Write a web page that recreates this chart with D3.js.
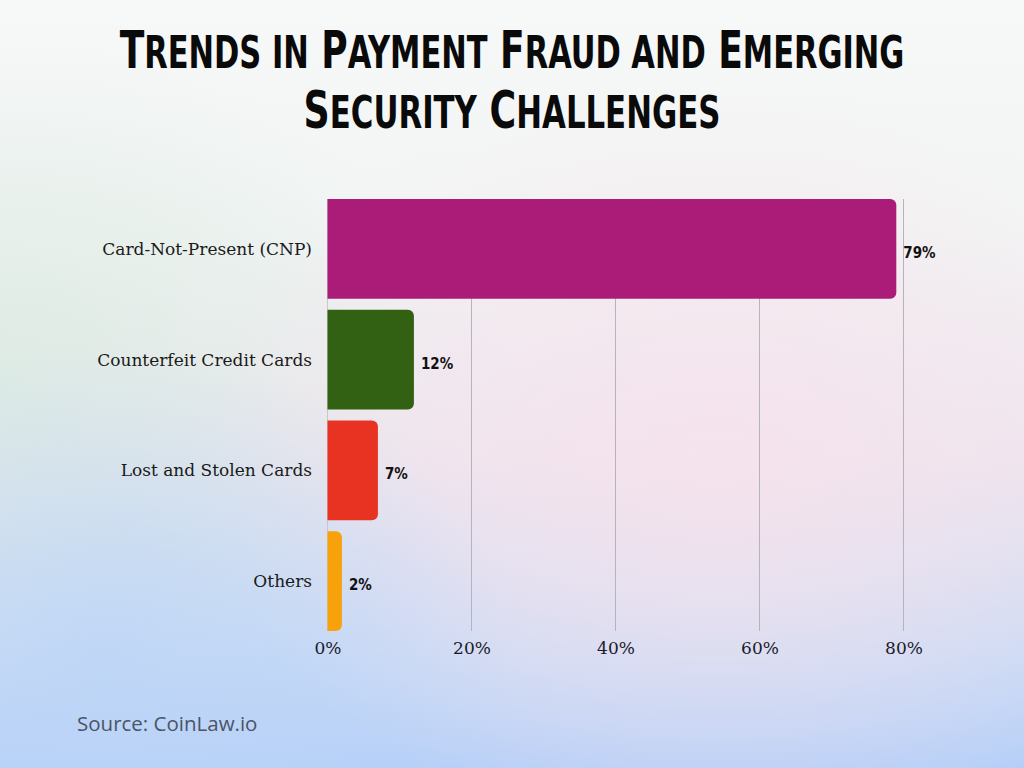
<!DOCTYPE html>
<html><head><meta charset="utf-8">
<script src="https://cdn.jsdelivr.net/npm/d3@7"></script>
<style>html,body{margin:0;padding:0;overflow:hidden}svg{display:block}</style>
</head><body>
<svg id="c" width="1024" height="768"></svg>
<script>
const categories = ["Card-Not-Present (CNP)", "Counterfeit Credit Cards", "Lost and Stolen Cards", "Others"];
const values = [79, 12, 7, 2];
const colors = ["#ab1c78", "#336114", "#e83222", "#f7a20b"];
const ticks = [0, 20, 40, 60, 80];
const titleLines = ["Trends in Payment Fraud and Emerging", "Security Challenges"];
const source = "Source: CoinLaw.io";

const svg = d3.select("#c");
const defs = svg.append("defs");
const lg = defs.append("linearGradient").attr("id","bg").attr("x1",0).attr("y1",0).attr("x2",0).attr("y2",1);
[[0,"#f7f8f8"],[0.3,"#f2f5f4"],[0.6,"#ece6ef"],[0.85,"#c8daf6"],[1,"#b5cff8"]].forEach(s=>lg.append("stop").attr("offset",s[0]).attr("stop-color",s[1]));
const rg1 = defs.append("radialGradient").attr("id","g1").attr("cx",0.0).attr("cy",0.5).attr("r",0.45);
rg1.append("stop").attr("offset",0).attr("stop-color","#dcebe2").attr("stop-opacity",0.9);
rg1.append("stop").attr("offset",1).attr("stop-color","#dcebe2").attr("stop-opacity",0);
const rg2 = defs.append("radialGradient").attr("id","g2").attr("cx",0.7).attr("cy",0.6).attr("r",0.5);
rg2.append("stop").attr("offset",0).attr("stop-color","#f6e2ec").attr("stop-opacity",0.9);
rg2.append("stop").attr("offset",1).attr("stop-color","#f6e2ec").attr("stop-opacity",0);
const rg3 = defs.append("radialGradient").attr("id","g3").attr("cx",0.1).attr("cy",0.85).attr("r",0.4);
rg3.append("stop").attr("offset",0).attr("stop-color","#bcd5f7").attr("stop-opacity",0.8);
rg3.append("stop").attr("offset",1).attr("stop-color","#bcd5f7").attr("stop-opacity",0);
svg.append("rect").attr("width",1024).attr("height",768).attr("fill","url(#bg)");
svg.append("rect").attr("width",1024).attr("height",768).attr("fill","url(#g1)");
svg.append("rect").attr("width",1024).attr("height",768).attr("fill","url(#g2)");
svg.append("rect").attr("width",1024).attr("height",768).attr("fill","url(#g3)");

// title: manual small caps (first letter of each word larger), condensed by a scale transform
const tW = [785, 417];
const titleFont = "'DejaVu Sans Condensed','Liberation Sans Narrow',sans-serif";
titleLines.forEach((line,i)=>{
  const g = svg.append("g");
  const t = g.append("text").attr("x",0).attr("y",0).attr("text-anchor","middle")
    .style("font-family",titleFont).style("font-weight","bold").attr("fill","#0a0a0a");
  line.split(" ").forEach((w,j)=>{
    const first = w[0], rest = w.slice(1);
    const big = first === first.toUpperCase();
    t.append("tspan").style("font-size", big ? "52px" : "44px").text((j>0?" ":"")+first.toUpperCase());
    if(rest) t.append("tspan").style("font-size","44px").text(rest.toUpperCase());
  });
  const w = t.node().getBBox().width;
  g.attr("transform",`translate(512,${68+i*60}) scale(${tW[i]/w},1)`);
});

const x = d3.scaleLinear().domain([0,80]).range([327.5,903.5]);
const y = d3.scaleBand().domain(categories).range([199,631]).paddingInner(0.1).paddingOuter(0);

// grid
svg.append("g").selectAll("line").data(ticks).join("line")
  .attr("x1",d=>x(d)).attr("x2",d=>x(d)).attr("y1",199).attr("y2",631)
  .attr("stroke",d=>d===0?"#c8c8cc":"#b4b4bc").attr("stroke-width",1);

// bars with rounded right corners
const r = 6;
function barPath(x0,x1,y0,h){
  const rr = Math.min(r,(x1-x0)/2,h/2);
  return `M${x0},${y0}H${x1-rr}A${rr},${rr} 0 0 1 ${x1},${y0+rr}V${y0+h-rr}A${rr},${rr} 0 0 1 ${x1-rr},${y0+h}H${x0}Z`;
}
svg.append("g").selectAll("path").data(values).join("path")
  .attr("d",(d,i)=>barPath(x(0),x(d),y(categories[i]),y.bandwidth()))
  .attr("fill",(d,i)=>colors[i]);

// value labels
svg.append("g").selectAll("text").data(values).join("text")
  .attr("x",d=>x(d)+7).attr("y",(d,i)=>y(categories[i])+y.bandwidth()/2+4)
  .attr("dominant-baseline","central")
  .style("font-family","'DejaVu Sans Condensed','Liberation Sans Narrow',sans-serif")
  .style("font-weight","bold").style("font-size","15px").attr("fill","#111")
  .text(d=>d+"%");

// category labels
svg.append("g").selectAll("text").data(categories).join("text")
  .attr("x",312).attr("y",d=>y(d)+y.bandwidth()/2)
  .attr("text-anchor","end").attr("dominant-baseline","central")
  .style("font-family","'DejaVu Serif','Liberation Serif',serif")
  .style("font-size","17px").attr("fill","#1a1a1a").text(d=>d);

// tick labels
const ax = svg.append("g").attr("transform","translate(0,631)")
  .call(d3.axisBottom(x).tickValues(ticks).tickFormat(d=>d+"%").tickSize(0).tickPadding(11));
ax.select(".domain").remove();
ax.selectAll("text").style("font-family","'DejaVu Serif','Liberation Serif',serif")
  .style("font-size","17px").attr("fill","#1a1a2a");

// source
svg.append("text").attr("x",77).attr("y",731)
  .style("font-family","'Open Sans','Noto Sans',sans-serif").style("font-size","20.5px")
  .attr("fill","#4a5568").text(source);
</script>
</body></html>
